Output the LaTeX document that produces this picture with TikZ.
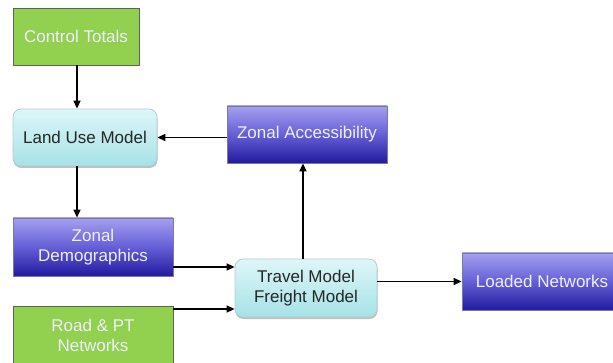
\documentclass[tikz,border=0pt]{standalone}
\usepackage{fontspec}
\setmainfont{Liberation Sans}
\usetikzlibrary{arrows.meta,shadows}
\definecolor{grnfill}{RGB}{146,208,80}
\definecolor{grnline}{RGB}{90,100,90}
\definecolor{bluetop}{RGB}{164,160,238}
\definecolor{bluemid}{RGB}{100,95,215}
\definecolor{bluebot}{RGB}{34,26,158}
\definecolor{blueline}{RGB}{120,120,160}
\definecolor{cyantop}{RGB}{222,246,248}
\definecolor{cyanbot}{RGB}{166,226,230}
\definecolor{cyanline}{RGB}{180,205,210}
\definecolor{lighttext}{RGB}{240,240,252}
\begin{document}
\begin{tikzpicture}[x=1pt,y=-1pt,
  box/.style={rectangle, inner sep=0pt, align=center,
    font=\fontsize{17}{20}\selectfont},
  greenbox/.style={box, fill=grnfill, draw=grnline, line width=0.8pt, text=lighttext},
  bluebox/.style={box, top color=bluetop, bottom color=bluebot, middle color=bluemid,
    draw=blueline, line width=0.8pt, text=lighttext},
  cyanbox/.style={box, rounded corners=8pt, top color=cyantop, bottom color=cyanbot,
    draw=cyanline, line width=0.8pt, text=black!85,
    drop shadow={shadow xshift=0.5pt, shadow yshift=-2pt, opacity=0.25, fill=black}},
  arr/.style={line width=1.4pt, -{Triangle[length=8pt,width=7pt]}}]
\useasboundingbox (0,0) rectangle (613,363);

\node[greenbox, minimum width=126pt, minimum height=57pt] (ct) at (76,36.5) {Control Totals};
\node[cyanbox, minimum width=144pt, minimum height=57pt] (lum) at (85,137.5) {Land Use Model};
\node[bluebox, minimum width=160pt, minimum height=57pt] (za) at (307,134.5) {Zonal Accessibility};
\node[bluebox, minimum width=160pt, minimum height=58pt] (zd) at (93,247) {Zonal\\Demographics};
\node[greenbox, minimum width=160pt, minimum height=58pt] (rpt) at (93,335) {Road \& PT\\Networks};
\node[cyanbox, minimum width=142pt, minimum height=58pt] (tm) at (306,288) {Travel Model\\Freight Model};
\node[bluebox, minimum width=160pt, minimum height=57pt] (ln) at (542,281.5) {Loaded Networks};

\coordinate (ctx) at (77,0);
\coordinate (zdy) at (0,267);
\coordinate (rpty) at (0,309);
\coordinate (tmx) at (303,0);

\draw[arr] (ct.south -| ctx) -- (lum.north -| ctx);
\draw[arr] (lum.east -| za.west) -- (lum.east);
\draw[arr] (lum.south -| ctx) -- (zd.north -| ctx);
\draw[arr] (zd.east |- zdy) -- (tm.west |- zdy);
\draw[arr] (rpt.east |- rpty) -- (tm.west |- rpty);
\draw[arr] (tm.north -| tmx) -- (za.south -| tmx);
\draw[arr] (tm.east |- ln.west) -- (ln.west);
\end{tikzpicture}
\end{document}
